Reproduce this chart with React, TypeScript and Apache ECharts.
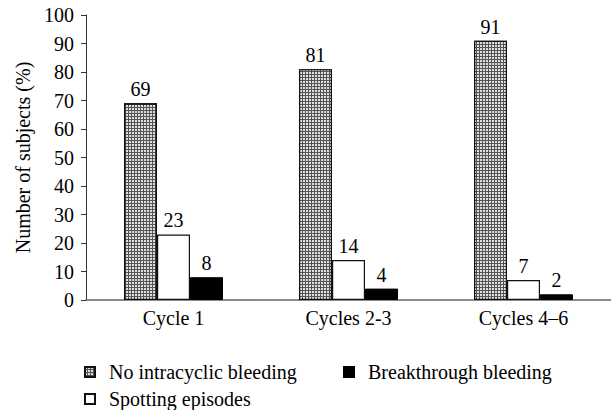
import React, { useEffect, useRef } from "react";
import * as echarts from "echarts";

const categories = ["Cycle 1", "Cycles 2-3", "Cycles 4\u20136"];
const noBleeding = [69, 81, 91];
const spotting = [23, 14, 7];
const breakthrough = [8, 4, 2];
const seriesNames = ["No intracyclic bleeding", "Spotting episodes", "Breakthrough bleeding"];

const FONT = "Liberation Serif, serif";

export default function App() {
  const ref = useRef<HTMLDivElement>(null);
  useEffect(() => {
    const chart = echarts.init(ref.current!, undefined, { renderer: "svg" });
    const label = {
      show: true,
      position: "top" as const,
      distance: 4,
      color: "#000",
      fontFamily: FONT,
      fontSize: 20,
    };
    const legendText = { color: "#000", fontFamily: FONT, fontSize: 20, padding: [0, 0, 0, 9] };
    const legendBase = {
      itemWidth: 10,
      itemHeight: 10,
      icon: "rect",
      padding: 0,
      textStyle: legendText,
    };
    chart.setOption({
      animation: false,
      backgroundColor: "#fff",
      textStyle: { fontFamily: FONT },
      grid: { left: 86, right: 0, top: 15, bottom: 110, containLabel: false },
      xAxis: {
        type: "category",
        data: categories,
        axisLine: { lineStyle: { color: "#666", width: 1.5 } },
        axisTick: { show: false },
        axisLabel: { color: "#000", fontFamily: FONT, fontSize: 20, margin: 8 },
      },
      yAxis: {
        type: "value",
        min: 0,
        max: 100,
        interval: 10,
        name: "Number of subjects (%)",
        nameLocation: "middle",
        nameGap: 52,
        nameTextStyle: { color: "#000", fontFamily: FONT, fontSize: 20 },
        axisLine: { show: true, lineStyle: { color: "#333", width: 1 } },
        axisTick: { show: true, length: 5, lineStyle: { color: "#333" } },
        splitLine: { show: false },
        axisLabel: { color: "#000", fontFamily: FONT, fontSize: 20, margin: 12 },
      },
      legend: [
        { ...legendBase, data: [seriesNames[0]], left: 84, top: 362 },
        { ...legendBase, data: [seriesNames[2]], left: 343, top: 362 },
        { ...legendBase, data: [seriesNames[1]], left: 84, top: 389 },
      ],
      series: [
        {
          name: seriesNames[0],
          type: "bar",
          data: noBleeding,
          barWidth: 33,
          barGap: "0%",
          itemStyle: {
            color: "#555",
            borderColor: "#111",
            borderWidth: 1.2,
            decal: {
              symbol: "rect",
              symbolSize: 1,
              color: "#dedede",
              dashArrayX: [2, 1],
              dashArrayY: [2, 1],
              rotation: 0,
            },
          },
          label,
        },
        {
          name: seriesNames[1],
          type: "bar",
          data: spotting,
          barWidth: 33,
          barGap: "0%",
          itemStyle: { color: "#fff", borderColor: "#111", borderWidth: 1.2 },
          label,
        },
        {
          name: seriesNames[2],
          type: "bar",
          data: breakthrough,
          barWidth: 33,
          barGap: "0%",
          itemStyle: { color: "#000", borderColor: "#000", borderWidth: 1 },
          label,
        },
      ],
    });
    return () => chart.dispose();
  }, []);
  return (
    <div
      ref={ref}
      style={{ position: "fixed", left: 0, top: 0, width: 611, height: 410 }}
    />
  );
}
